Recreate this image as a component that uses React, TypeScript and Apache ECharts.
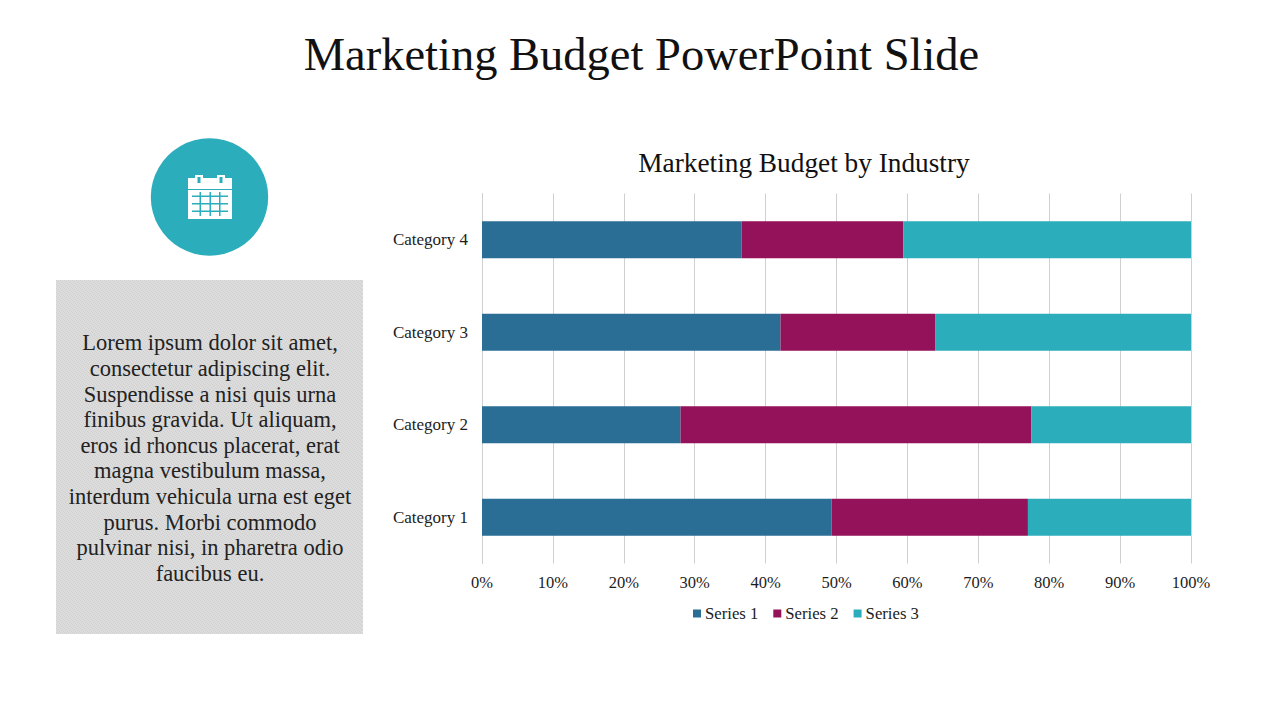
import React, { useEffect, useRef } from "react";
import * as echarts from "echarts";

const pageTitle = "Marketing Budget PowerPoint Slide";
const chartTitle = "Marketing Budget by Industry";
const categories = ["Category 1", "Category 2", "Category 3", "Category 4"];
const series1 = [49.3, 28.0, 42.1, 36.6];
const series2 = [27.7, 49.5, 21.8, 22.8];
const series3 = [23.0, 22.5, 36.1, 40.6];
const bodyLines = [
  "Lorem ipsum dolor sit amet,",
  "consectetur adipiscing elit.",
  "Suspendisse a nisi quis urna",
  "finibus gravida. Ut aliquam,",
  "eros id rhoncus placerat, erat",
  "magna vestibulum massa,",
  "interdum vehicula urna est eget",
  "purus. Morbi commodo",
  "pulvinar nisi, in pharetra odio",
  "faucibus eu.",
];

const FONT = "'Liberation Serif'";
const TEAL = "#2CADBB";
const BLUE = "#2A6E96";
const PURPLE = "#941259";
const INK = "#1c1c1c";

const icon = [
  { type: "circle", shape: { cx: 209.5, cy: 197, r: 58.7 }, style: { fill: TEAL } },
  { type: "rect", shape: { x: 188, y: 178, width: 44, height: 11 }, style: { fill: "#fff" } },
  { type: "rect", shape: { x: 188, y: 190, width: 44, height: 29 }, style: { fill: "#fff" } },
  { type: "rect", shape: { x: 195, y: 175, width: 8, height: 8 }, style: { fill: "#fff" } },
  { type: "rect", shape: { x: 217, y: 175, width: 8, height: 8 }, style: { fill: "#fff" } },
  { type: "rect", shape: { x: 197.5, y: 177, width: 3, height: 6 }, style: { fill: TEAL } },
  { type: "rect", shape: { x: 219.5, y: 177, width: 3, height: 6 }, style: { fill: TEAL } },
  ...[195.5, 203, 210.5].map((y) => ({
    type: "rect",
    shape: { x: 192, y, width: 36, height: 1.5 },
    style: { fill: TEAL },
  })),
  ...[199.5, 209.5, 219].map((x) => ({
    type: "rect",
    shape: { x, y: 192, width: 1.5, height: 24 },
    style: { fill: TEAL },
  })),
];

function weaveTile() {
  const c = document.createElement("canvas");
  c.width = 4;
  c.height = 4;
  const g = c.getContext("2d")!;
  g.fillStyle = "#dcdcdc";
  g.fillRect(0, 0, 4, 4);
  g.fillStyle = "#cfcfcf";
  [[0, 0], [2, 1], [1, 2], [3, 3]].forEach(([x, y]) => g.fillRect(x, y, 1, 1));
  return c;
}

export default function App() {
  const ref = useRef<HTMLDivElement>(null);
  useEffect(() => {
    const chart = echarts.init(ref.current!, undefined, { renderer: "svg" });
    const mk = (name: string, data: number[], color: string) => ({
      name,
      type: "bar",
      stack: "total",
      data,
      barWidth: 37,
      itemStyle: { color },
    });
    chart.setOption({
      animation: false,
      backgroundColor: "#fff",
      title: [
        {
          text: pageTitle,
          left: 636.5,
          top: 26,
          textAlign: "center",
          textStyle: { fontFamily: FONT, fontSize: 46.5, fontWeight: "normal", color: "#111" },
        },
        {
          text: chartTitle,
          left: 799,
          top: 144,
          textAlign: "center",
          textStyle: { fontFamily: FONT, fontSize: 27.3, fontWeight: "normal", color: "#111" },
        },
      ],
      grid: { left: 482, right: 89, top: 193.5, bottom: 156.5, containLabel: false },
      xAxis: {
        type: "value",
        min: 0,
        max: 100,
        interval: 10,
        axisLine: { show: false },
        axisTick: { show: false },
        axisLabel: {
          formatter: "{value}%",
          fontFamily: FONT,
          fontSize: 16.5,
          color: INK,
          margin: 10,
        },
        splitLine: { show: true, lineStyle: { color: "#d0d0d0", width: 1 } },
      },
      yAxis: {
        type: "category",
        data: categories,
        axisLine: { show: true, lineStyle: { color: "#d0d0d0" } },
        axisTick: { show: false },
        axisLabel: { fontFamily: FONT, fontSize: 17, color: INK, margin: 14 },
      },
      legend: {
        left: 688,
        top: 600,
        itemWidth: 8,
        itemHeight: 8,
        itemGap: 15,
        icon: "rect",
        textStyle: { fontFamily: FONT, fontSize: 16.7, color: INK, padding: [0, 0, 0, -1] },
      },
      series: [mk("Series 1", series1, BLUE), mk("Series 2", series2, PURPLE), mk("Series 3", series3, TEAL)],
      graphic: [
        ...icon,
        {
          type: "rect",
          shape: { x: 56, y: 280, width: 307, height: 354 },
          style: { fill: { image: weaveTile(), repeat: "repeat" } },
        },
        {
          type: "text",
          x: 210,
          y: 330,
          style: {
            text: bodyLines.join("\n"),
            fontFamily: FONT,
            fontSize: 22.5,
            lineHeight: 25.6,
            align: "center",
            fill: "#222",
          },
        },
      ],
    });
    return () => chart.dispose();
  }, []);
  return <div ref={ref} style={{ position: "fixed", left: 0, top: 0, width: 1280, height: 720 }} />;
}
